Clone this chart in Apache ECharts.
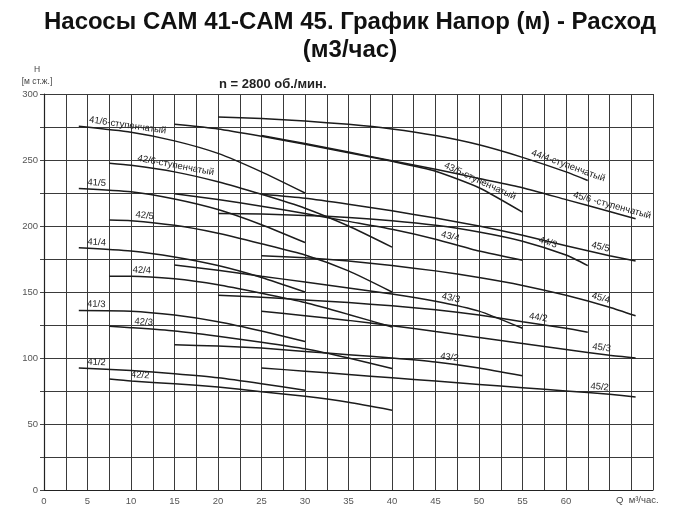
<!DOCTYPE html>
<html><head><meta charset="utf-8">
<script src="https://cdn.jsdelivr.net/npm/echarts/dist/echarts.min.js"></script>
<style>html,body{margin:0;padding:0;background:#fff}#c{width:700px;height:524px}</style>
</head><body><div id="c"></div>
<script>
// Q (m3/h) points per pump family
const q41 = [4, 10, 15, 20, 25, 30];
const q42 = [7.5, 10, 15, 20, 25, 30, 35, 40];
const q43 = [15, 20, 25, 30, 35, 40, 45, 50, 55];
const q44 = [20, 25, 30, 35, 40, 45, 50, 55, 60, 62.5];
const q45 = [25, 30, 35, 40, 45, 50, 55, 60, 65, 68];

// H (m) values per curve
const h41_6 = [275.5, 271, 264.5, 255, 241, 225];
const h41_5 = [228.5, 226, 220.5, 212.5, 201, 187.5];
const h41_4 = [183.5, 181, 176.5, 170, 161, 150];
const h41_3 = [136, 135.5, 132.5, 127.5, 120.5, 112.5];
const h41_2 = [92.5, 90.5, 88, 85, 80.5, 75.5];

const h42_6 = [247.5, 246, 241, 233.5, 224, 213.5, 200, 184];
const h42_5 = [204.5, 204, 200.5, 194.5, 186.5, 178, 166, 150];
const h42_4 = [162, 162, 160, 155.5, 149, 142, 133, 123.5];
const h42_3 = [124, 123, 120.5, 116.5, 112, 107, 100, 92];
const h42_2 = [84, 82.5, 80.5, 78, 74.5, 71, 66.5, 60.5];

const h43_5 = [277, 273.5, 268, 262, 255.5, 249, 241.5, 229, 210.5];
const h43_4 = [224.5, 220, 215, 209.5, 203.5, 197.5, 190, 181, 174];
const h43_3 = [170.5, 166.5, 162, 157.5, 153, 148.5, 143, 135.5, 122.5];
const h43_2 = [110, 109, 107.5, 105, 102.5, 100, 97, 92.5, 86.5];

const h44_4 = [282.5, 281.5, 279.5, 277, 273.5, 268.5, 261.5, 252, 241, 234.5];
const h44_3 = [209.5, 209, 208, 206.5, 204, 200.5, 195.5, 188.5, 178, 170];
const h44_2 = [147.5, 146, 144, 142, 139.5, 136.5, 132.5, 127.5, 122.5, 119.5];

const h45_6 = [268.5, 262.5, 256, 249.5, 243, 236, 229, 220, 211, 205.5];
const h45_5 = [224, 221, 216.5, 211.5, 206, 200, 193, 185, 177.5, 173.5];
const h45_4 = [177.5, 176, 173.5, 170, 166, 161, 155, 147.5, 138.5, 132];
const h45_3 = [135.5, 132, 128.5, 124.5, 120, 115.5, 111, 106.5, 102, 100];
const h45_2 = [92.5, 90, 87.5, 85, 82.5, 80, 77.5, 75, 72.5, 70.5];

// curve names and their label texts
const curveNames = ['41/6','41/5','41/4','41/3','41/2','42/6','42/5','42/4','42/3','42/2',
  '43/5','43/4','43/3','43/2','44/4','44/3','44/2','45/6','45/5','45/4','45/3','45/2'];
const curveLabels = ['41/6-ступенчатый','41/5','41/4','41/3','41/2','42/6-ступенчатый','42/5','42/4','42/3','42/2',
  '43/5-ступенчатый','43/4','43/3','43/2','44/4-ступенчатый','44/3','44/2','45/6 -ступенчатый','45/5','45/4','45/3','45/2'];
const curveQ = [q41,q41,q41,q41,q41,q42,q42,q42,q42,q42,q43,q43,q43,q43,q44,q44,q44,q45,q45,q45,q45,q45];
const curveH = [h41_6,h41_5,h41_4,h41_3,h41_2,h42_6,h42_5,h42_4,h42_3,h42_2,
  h43_5,h43_4,h43_3,h43_2,h44_4,h44_3,h44_2,h45_6,h45_5,h45_4,h45_3,h45_2];

// tick labels
const xTicks = [0,5,10,15,20,25,30,35,40,45,50,55,60];
const yTicks = [0,50,100,150,200,250,300];

// layout: where (in Q) each curve label sits
const labelAt = [9.5,6,6,6,6, 15,11.5,11.2,11.4,11, 49.8,46.5,46.6,46.5, 60,57.7,56.7, 65.1,63.8,63.8,64,63.8];

const chart = echarts.init(document.getElementById('c'), null, {renderer:'canvas'});
const FONT = '"Liberation Sans", Arial, sans-serif';

const series = curveNames.map((n, i) => ({
  name: n, type: 'line', silent: true,
  data: curveQ[i].map((q, k) => [q, curveH[i][k]]),
  smooth: 0.2, symbol: 'none',
  lineStyle: {color: '#1c1c1c', width: 1.5}
}));

const option = {
  animation: false,
  backgroundColor: '#ffffff',
  title: [
    {text: 'Насосы CAM 41-CAM 45. График Напор (м) - Расход\n(м3/час)', left: 'center', top: 3,
     textStyle: {fontFamily: FONT, fontSize: 24, fontWeight: 'bold', color: '#111', lineHeight: 28}},
    {text: 'n = 2800 об./мин.', left: 214, top: 73,
     textStyle: {fontFamily: FONT, fontSize: 13, fontWeight: 'bold', color: '#222'}}
  ],
  grid: {left: 44, right: 47, top: 94, bottom: 34, show: false},
  xAxis: {
    type: 'value', min: 0, max: 70, interval: 2.5,
    name: 'Q  м³/час.', nameLocation: 'end', nameGap: -37,
    nameTextStyle: {fontFamily: FONT, fontSize: 9.5, color: '#444', verticalAlign: 'top', padding: [5, 0, 0, 0]},
    axisLine: {lineStyle: {color: '#222', width: 1.2}},
    axisTick: {show: false},
    axisLabel: {fontFamily: FONT, fontSize: 9.5, color: '#555', margin: 6,
      formatter: v => xTicks.indexOf(v) >= 0 ? String(v) : ''},
    splitLine: {show: true, lineStyle: {color: '#3a3a3a', width: 1}}
  },
  yAxis: {
    type: 'value', min: 0, max: 300, interval: 25,
    name: 'H\n[м ст.ж.]', nameLocation: 'end', nameGap: 6,
    nameTextStyle: {fontFamily: FONT, fontSize: 8.5, color: '#444', align: 'center', lineHeight: 12, padding: [0, 14, 0, 0]},
    axisLine: {show: true, lineStyle: {color: '#222', width: 1.2}},
    axisTick: {show: true, length: 4, lineStyle: {color: '#444'}},
    axisLabel: {fontFamily: FONT, fontSize: 9.5, color: '#555', margin: 6,
      formatter: v => yTicks.indexOf(v) >= 0 ? String(v) : ''},
    splitLine: {show: true, lineStyle: {color: '#3a3a3a', width: 1}}
  },
  series: series
};
chart.setOption(option);

// place curve labels along their curves
function hAt(qs, hs, x) {
  for (let k = 0; k < qs.length - 1; k++) {
    if (x >= qs[k] && x <= qs[k + 1]) {
      const t = (x - qs[k]) / (qs[k + 1] - qs[k]);
      return hs[k] + t * (hs[k + 1] - hs[k]);
    }
  }
  return x < qs[0] ? hs[0] : hs[hs.length - 1];
}
const graphics = curveNames.map((n, i) => {
  const x = labelAt[i];
  const qs = curveQ[i], hs = curveH[i];
  const p = chart.convertToPixel({gridIndex: 0}, [x, hAt(qs, hs, x)]);
  const x1 = Math.max(qs[0], x - 2), x2 = Math.min(qs[qs.length - 1], x + 2);
  const p1 = chart.convertToPixel({gridIndex: 0}, [x1, hAt(qs, hs, x1)]);
  const p2 = chart.convertToPixel({gridIndex: 0}, [x2, hAt(qs, hs, x2)]);
  let dx = p2[0] - p1[0], dy = p2[1] - p1[1];
  const len = Math.sqrt(dx * dx + dy * dy) || 1; dx /= len; dy /= len;
  const gap = 1.5;
  return {
    type: 'text', silent: true, z: 100,
    x: p[0] + gap * dy, y: p[1] - gap * dx,
    rotation: -Math.atan2(dy, dx),
    style: {text: curveLabels[i], fill: '#222', font: '9.5px ' + FONT, align: 'center', verticalAlign: 'bottom'}
  };
});
chart.setOption({graphic: graphics});
</script>
</body></html>
